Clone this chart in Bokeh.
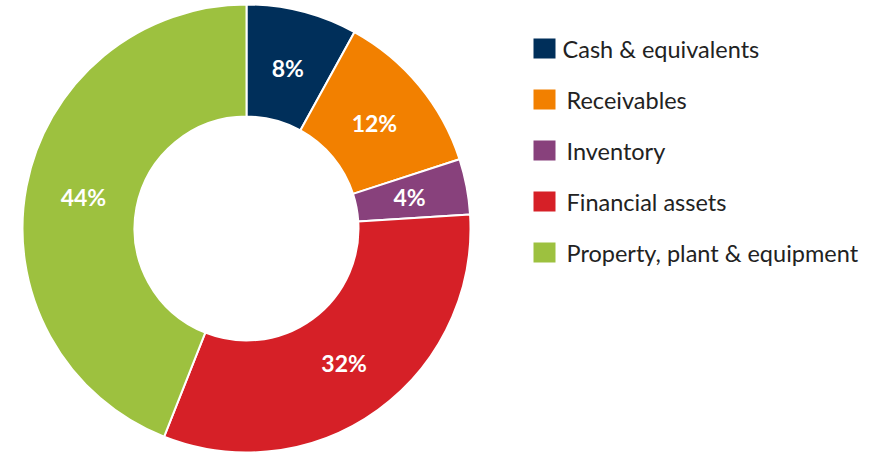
import math
from bokeh.plotting import figure
from bokeh.models import Range1d, ColumnDataSource
from bokeh.core.properties import value
from bokeh.embed import file_html
from bokeh.resources import INLINE

categories = ["Cash & equivalents", "Receivables", "Inventory", "Financial assets", "Property, plant & equipment"]
shares = [8, 12, 4, 32, 44]
labels = ["8%", "12%", "4%", "32%", "44%"]
colors = ["#002F5A", "#F28000", "#88417C", "#D62027", "#9DC13F"]

W, H = 861, 455
p = figure(width=W, height=H, output_backend="svg", toolbar_location=None,
           x_range=Range1d(0, W), y_range=Range1d(-H, 0),
           min_border=0, outline_line_color=None)
p.axis.visible = False
p.grid.visible = False
p.background_fill_color = "white"
p.border_fill_color = "white"

cx, cy = 246, -228
r_out, r_in = 224, 112
total = sum(shares)
starts, ends, lx, ly = [], [], [], []
cum = 0
for s in shares:
    a0 = math.pi / 2 - 2 * math.pi * cum / total
    cum += s
    a1 = math.pi / 2 - 2 * math.pi * cum / total
    starts.append(a0)
    ends.append(a1)
    mid = (a0 + a1) / 2
    lr = 166
    lx.append(cx + lr * math.cos(mid))
    ly.append(cy + lr * math.sin(mid))

src = ColumnDataSource(dict(start=starts, end=ends, color=colors, cat=categories,
                            lx=lx, ly=ly, label=labels))
p.annular_wedge(x=cx, y=cy, inner_radius=r_in, outer_radius=r_out,
                start_angle="start", end_angle="end", direction="clock",
                fill_color="color", line_color="white", line_width=2, source=src)
p.text(x="lx", y="ly", text="label", source=src, text_color="white",
       text_font=value("Lato"), text_font_style="bold", text_font_size="23px",
       text_align="center", text_baseline="middle")

# legend
leg_y = [-(48 + 51 * i) for i in range(len(categories))]
leg_src = ColumnDataSource(dict(y=leg_y, color=colors, cat=categories,
                                tx=[562] + [566] * (len(categories) - 1)))
p.rect(x=544, y="y", width=22, height=20, fill_color="color", line_color=None, source=leg_src)
p.text(x="tx", y="y", text="cat", source=leg_src, text_color="#222222",
       text_font=value("Lato"), text_font_size="23.5px",
       text_align="left", text_baseline="middle")

open("out.html", "w").write(file_html(p, INLINE))
